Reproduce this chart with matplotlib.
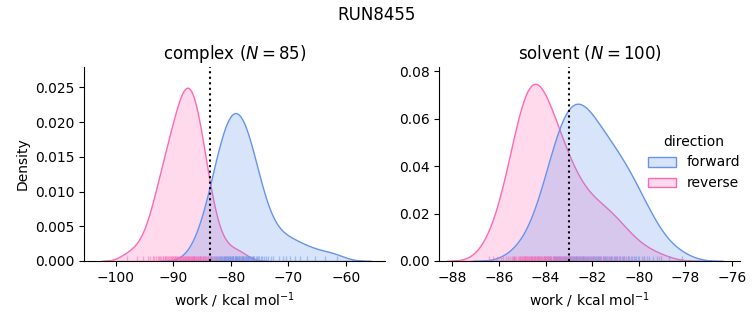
import matplotlib
matplotlib.use("Agg")
import matplotlib.pyplot as plt
import pandas as pd
import seaborn as sns

run_name = "RUN8455"
phases = ["complex", "solvent"]
directions = ["forward", "reverse"]
palette = ["cornflowerblue", "hotpink"]

# work values in kcal/mol, one entry per switching trajectory
complex_forward = [
    -86.45, -85.44, -84.82, -84.43, -84.0, -83.71, -83.47, -83.23, -82.99, -82.8,
    -82.61, -82.42, -82.27, -82.08, -81.94, -81.79, -81.65, -81.5, -81.41, -81.22,
    -81.12, -80.98, -80.88, -80.78, -80.64, -80.54, -80.45, -80.3, -80.21, -80.11,
    -79.97, -79.87, -79.78, -79.68, -79.58, -79.34, -79.25, -79.15, -79.06,
    -78.96, -78.86, -78.77, -78.67, -78.58, -78.34, -78.19, -78.1, -78.0,
    -77.9, -77.81, -77.71, -77.52, -77.42, -77.33, -77.18, -77.09, -76.99, -76.85,
    -76.66, -76.51, -76.37, -76.22, -76.13, -75.98, -75.7, -75.5, -75.31, -75.12,
    -74.78, -74.54, -74.26, -73.87, -73.49, -73.1, -72.62,
    -71.6, -71.0, -70.4, -69.7, -68.8, -67.9, -66.8, -65.4, -63.6, -61.6,
]
complex_reverse = [
    -98.1, -96.3, -95.3, -94.5, -94.0, -93.6, -93.35, -93.05, -92.75, -92.55,
    -92.35, -92.15, -91.9, -91.75, -91.55, -91.4, -91.25, -91.1, -90.9, -90.75,
    -90.6, -90.45, -90.3, -90.2, -90.05, -89.85, -89.75, -89.65, -89.5, -89.4,
    -89.3, -89.15, -89.0, -88.9, -88.8, -88.7, -88.6, -88.5, -88.4, -88.3,
    -88.2, -88.05, -87.95, -87.9, -87.8, -87.7, -87.6, -87.5, -87.4, -87.35,
    -87.25, -87.1, -87.0, -86.9, -86.8, -86.7, -86.6, -86.55, -86.45, -86.35,
    -86.25, -86.1, -86.0, -85.9, -85.8, -85.65, -85.55, -85.45, -85.35, -85.15,
    -85.0, -84.85, -84.7, -84.55, -84.4, -84.15, -83.95, -83.7, -83.5, -83.15,
    -82.65, -82.0, -81.0, -79.6, -78.1,
]
solvent_forward = [
    -85.35, -84.89, -84.63, -84.45, -84.33, -84.20, -84.08, -84.01, -83.95, -83.89,
    -83.81, -83.75, -83.67, -83.62, -83.59, -83.54, -83.50, -83.46, -83.42, -83.37,
    -83.33, -83.28, -83.23, -83.20, -83.16, -83.12, -83.08, -83.05, -83.01, -82.98,
    -82.93, -82.90, -82.87, -82.83, -82.78, -82.75,
    -82.71, -82.68, -82.64, -82.60, -82.56, -82.53, -82.49, -82.45, -82.41, -82.37,
    -82.33, -82.29, -82.26, -82.21, -82.17, -82.13, -82.09, -82.04, -82.01, -81.96,
    -81.92, -81.88, -81.84, -81.79, -81.74, -81.69, -81.64, -81.60, -81.54, -81.49,
    -81.45, -81.40, -81.35, -81.29, -81.23, -81.19, -81.13, -81.08, -81.02, -80.96,
    -80.92, -80.85, -80.79, -80.73, -80.67, -80.61, -80.55, -80.48, -80.42, -80.35,
    -80.28, -80.19, -80.12, -80.04, -79.97, -79.87, -79.76, -79.64, -79.54, -79.39,
    -79.22, -79.04, -78.71, -78.16,
]
solvent_reverse = [
    -86.41, -86.27, -86.07, -85.90, -85.81, -85.70, -85.60, -85.51, -85.45, -85.41,
    -85.36, -85.30, -85.25, -85.20, -85.15, -85.10, -85.08, -85.05, -85.02, -84.98,
    -84.96, -84.93, -84.90, -84.87, -84.85, -84.81, -84.78, -84.75, -84.72, -84.69,
    -84.65, -84.63,
    -84.60, -84.57, -84.54, -84.51, -84.48, -84.45, -84.42, -84.38, -84.36, -84.32,
    -84.29, -84.26, -84.22, -84.19, -84.15, -84.11, -84.08, -84.04, -84.01, -83.97,
    -83.93, -83.90, -83.87, -83.84, -83.79, -83.75, -83.70, -83.65, -83.60, -83.56,
    -83.51, -83.47, -83.42, -83.38, -83.32, -83.27, -83.21, -83.15, -83.10, -83.04,
    -82.98, -82.93, -82.85,
    -82.78, -82.70, -82.62, -82.54, -82.45, -82.36, -82.26, -82.16, -82.06, -81.97,
    -81.86, -81.75, -81.64, -81.54, -81.43, -81.31, -81.19, -81.07, -80.95, -80.79,
    -80.62, -80.44, -80.14, -79.78, -79.13,
]

# free energy estimate per phase (dotted line)
dg_estimate = [-83.65, -83.0]

xlims = [(-105.5, -53.2), (-88.56, -75.65)]
ytops = [0.0279, 0.0817]

frames = []
per_phase = {"complex": (complex_forward, complex_reverse),
             "solvent": (solvent_forward, solvent_reverse)}
for phase in phases:
    for direction, values in zip(directions, per_phase[phase]):
        frames.append(pd.DataFrame({"work": values, "phase": phase,
                                    "direction": direction}))
df = pd.concat(frames, ignore_index=True)

g = sns.displot(
    data=df, x="work", hue="direction", col="phase", kind="kde",
    fill=True, rug=True, palette=palette, hue_order=directions,
    col_order=phases, height=3.25, aspect=1.0,
    facet_kws=dict(sharex=False, sharey=False),
    rug_kws=dict(alpha=0.5, linewidth=1),
)
g.set_axis_labels("work / kcal mol$^{-1}$", "Density")

fig = g.figure
fig.set_size_inches(7.53, 3.25)
for ax, phase, dg, xl, top in zip(g.axes.flat, phases, dg_estimate, xlims, ytops):
    n = len(per_phase[phase][0])
    ax.set_title(f"{phase} ($N = {n}$)", fontsize=12)
    ax.axvline(dg, color="black", linestyle=":", linewidth=1.5)
    ax.set_xlim(*xl)
    ax.set_ylim(0, top)

fig.suptitle(run_name, fontsize=12)
fig.subplots_adjust(left=0.112, right=0.9827, bottom=0.197, top=0.793, wspace=0.181)
fig.savefig("out.png", dpi=100)
